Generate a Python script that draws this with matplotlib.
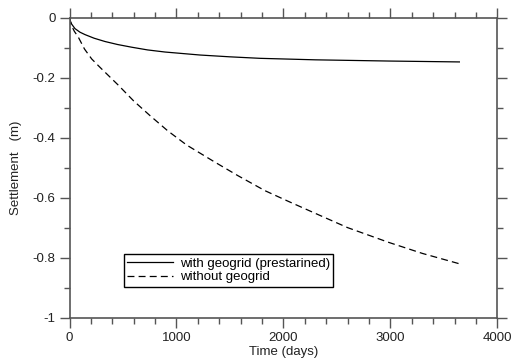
import numpy as np
import matplotlib
matplotlib.use('Agg')
import matplotlib.pyplot as plt
from matplotlib.ticker import MultipleLocator

# === Data === #
t_with = [0, 8, 20, 51, 98, 145, 230, 332, 450, 582, 730, 893, 1221, 1500, 1782,
          2300, 2983, 3645]
s_with = [0, -0.012, -0.022, -0.037, -0.049, -0.057, -0.069, -0.080, -0.090, -0.099,
          -0.108, -0.115, -0.125, -0.131, -0.136, -0.141, -0.145, -0.148]

t_without = [0, 8, 20, 45, 83, 140, 207, 285, 455, 600, 753, 920, 1096, 1360, 1575,
             1828, 2043, 2295, 2600, 2983, 3300, 3651]
s_without = [0, -0.014, -0.028, -0.046, -0.066, -0.105, -0.138, -0.166, -0.225, -0.278,
             -0.327, -0.378, -0.425, -0.482, -0.527, -0.577, -0.612, -0.652, -0.700,
             -0.749, -0.786, -0.821]

labels = ['with geogrid (prestarined)', 'without geogrid']

plt.rcParams['font.family'] = ['Liberation Sans', 'DejaVu Sans']
plt.rcParams['lines.scale_dashes'] = False

fig = plt.figure(figsize=(5.15, 3.61), dpi=100)
ax = fig.add_axes([0.135, 0.12, 0.8307, 0.8315])

ax.plot(t_with, s_with, color='black', lw=0.9, label=labels[0])
ax.plot(t_without, s_without, color='black', lw=0.9, dashes=(5, 3), label=labels[1])

ax.set_xlim(0, 4000)
ax.set_ylim(-1, 0)
ax.xaxis.set_major_locator(MultipleLocator(1000))
ax.xaxis.set_minor_locator(MultipleLocator(200))
ax.yaxis.set_major_locator(MultipleLocator(0.2))
ax.yaxis.set_minor_locator(MultipleLocator(0.1))
ax.yaxis.set_major_formatter(plt.FuncFormatter(lambda v, p: '%g' % round(v, 1)))

spine_col = '#555555'
for sp in ax.spines.values():
    sp.set_color(spine_col)
    sp.set_linewidth(1.2)
ax.tick_params(which='both', direction='out', top=True, right=True,
               color=spine_col, width=1.0, labelsize=9.5, pad=3,
               labelcolor='#222222')
ax.tick_params(which='major', length=7)
ax.tick_params(which='minor', length=4)

ax.set_xlabel('Time (days)', fontsize=9.5, labelpad=2, color='#222222')
ax.set_ylabel('Settlement   (m)', fontsize=9.5, labelpad=8, color='#222222')

leg = ax.legend(loc='lower left', bbox_to_anchor=(0.127, 0.103), fontsize=9.5,
                handlelength=3.5, fancybox=False, framealpha=1,
                borderpad=0.25, labelspacing=0.1, handletextpad=0.5,
                borderaxespad=0)
leg.get_frame().set_edgecolor('black')
leg.get_frame().set_linewidth(1.0)

fig.savefig('out.png', dpi=100)
